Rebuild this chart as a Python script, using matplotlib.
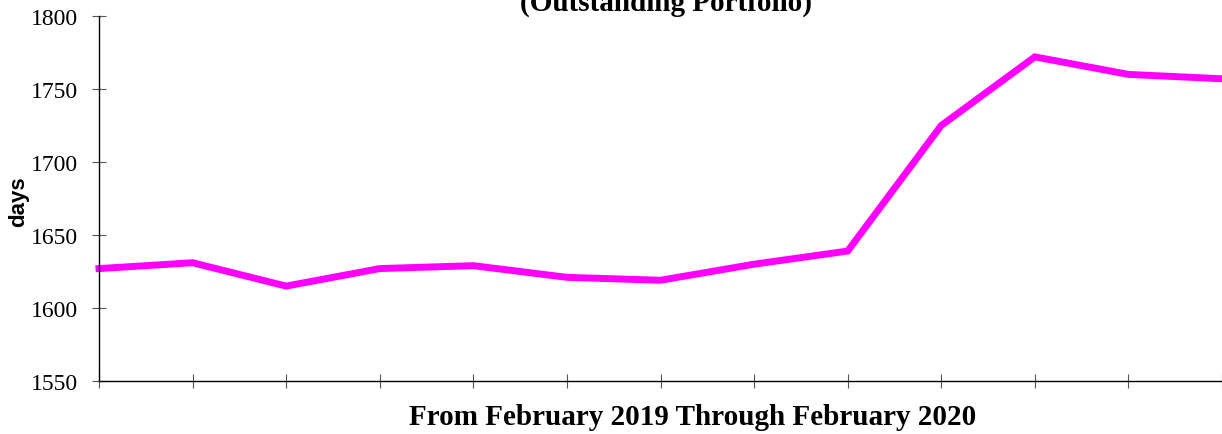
import matplotlib
matplotlib.use("Agg")
import matplotlib.pyplot as plt

months = ["Feb 2019", "Mar 2019", "Apr 2019", "May 2019", "Jun 2019", "Jul 2019",
          "Aug 2019", "Sep 2019", "Oct 2019", "Nov 2019", "Dec 2019", "Jan 2020", "Feb 2020"]
days = [1627, 1631, 1615, 1627, 1629, 1621, 1619, 1630, 1639, 1725, 1772, 1760, 1757]
yticks = [1550, 1600, 1650, 1700, 1750, 1800]

fig = plt.figure(figsize=(12.22, 4.35), dpi=100)
ax = fig.add_axes([99/1222, 1 - 382/435, 1 - 99/1222, (382 - 17)/435])
x = list(range(len(months)))
ax.plot(x, days, color="#FF00FF", linewidth=5, solid_joinstyle="miter", clip_on=False)
ax.set_xlim(0, len(months) - 1)
ax.set_ylim(1550, 1800)
ax.set_yticks(yticks)
ax.set_yticklabels([str(v) for v in yticks], fontfamily="Liberation Serif", fontsize=17)
ax.set_xticks(x)
ax.set_xticklabels([])
ax.tick_params(axis="both", direction="inout", length=10, width=0.8, color="#555555")
ax.tick_params(axis="y", pad=10)
for s in ["top", "right"]:
    ax.spines[s].set_visible(False)
for s in ["left", "bottom"]:
    ax.spines[s].set_linewidth(1.0)
    ax.spines[s].set_color("black")

fig.text(19/1222, 1 - 202/435, "days", rotation=90, ha="center", va="center",
         fontfamily="Liberation Sans", fontweight="bold", fontsize=16)
fig.text(693/1222, 1 - 418/435, "From February 2019 Through February 2020", ha="center", va="center",
         fontfamily="Liberation Serif", fontweight="bold", fontsize=21)
fig.text(666/1222, 1 - 11/435, "(Outstanding Portfolio)", ha="center", va="baseline",
         fontfamily="Liberation Serif", fontweight="bold", fontsize=21)

fig.savefig("out.png", dpi=100)
